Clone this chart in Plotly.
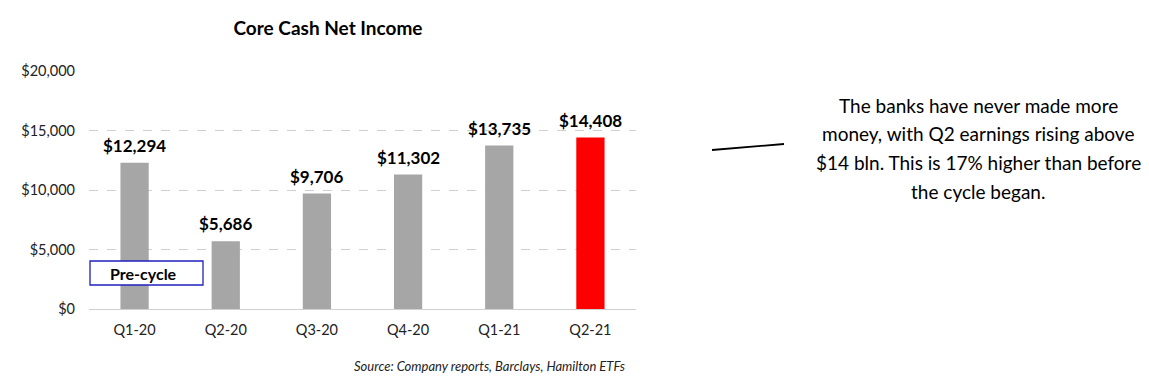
import plotly.graph_objects as go

categories = ["Q1-20", "Q2-20", "Q3-20", "Q4-20", "Q1-21", "Q2-21"]
values = [12294, 5686, 9706, 11302, 13735, 14408]
bar_colors = ["#a6a6a6", "#a6a6a6", "#a6a6a6", "#a6a6a6", "#a6a6a6", "#ff0000"]
tick_vals = [0, 5000, 10000, 15000, 20000]
tick_text = ["$0", "$5,000", "$10,000", "$15,000", "$20,000"]
labels = ["${:,}".format(v) for v in values]
comment_lines = [
    "The banks have never made more",
    "money, with Q2 earnings rising above",
    "$14 bln. This is 17% higher than before",
    "the cycle began.",
]

FONT = "Lato"
OFF = 8  # page body margin
W, H = 1149 - OFF, 383 - OFF

fig = go.Figure()
fig.add_trace(go.Bar(
    x=categories, y=values, marker=dict(color=bar_colors, line=dict(width=0)),
    width=0.31, hoverinfo="skip",
))

for c, v, t in zip(categories, values, labels):
    fig.add_annotation(x=c, y=v, text="<b>" + t + "</b>", showarrow=False,
                       xanchor="center", yanchor="bottom", yshift=5,
                       font=dict(family=FONT, size=17, color="black"))

fig.update_layout(
    width=W, height=H,
    margin=dict(l=89 - OFF, r=W - (636 - OFF), t=71 - OFF, b=H - (309 - OFF), autoexpand=False),
    paper_bgcolor="white", plot_bgcolor="white",
    showlegend=False,
    font=dict(family=FONT, size=14, color="#222"),
    xaxis=dict(showgrid=False, showline=False, ticks="", tickfont=dict(size=14.5),
               ticklabelstandoff=10),
    yaxis=dict(range=[0, 20000], tickvals=tick_vals, ticktext=tick_text,
               showgrid=True, gridcolor="#d0d0d0", griddash="dash", gridwidth=1,
               zeroline=True, zerolinecolor="#d0d0d0", zerolinewidth=1.2,
               ticks="", ticklabelstandoff=13, tickfont=dict(size=14.5)),
    title=dict(text="<b>Core Cash Net Income</b>", x=(328 - OFF) / W, xanchor="center",
               y=1 - (28 - OFF) / H, yanchor="middle", font=dict(family=FONT, size=19, color="black")),
)

def px(x):
    return (x - 89) / (636 - 89)

def py(y):
    return (309 - y) / (309 - 71)

# Pre-cycle box
fig.add_shape(type="rect", xref="paper", yref="paper", x0=px(90), x1=px(203), y0=py(285), y1=py(261),
              line=dict(color="#1f1fbf", width=1.3), fillcolor="white", layer="above")
fig.add_annotation(xref="paper", yref="paper", x=px(143), y=py(273), text="<b>Pre-cycle</b>",
                   showarrow=False, font=dict(family=FONT, size=16, color="black"),
                   xanchor="center", yanchor="middle")

# Source
fig.add_annotation(xref="paper", yref="paper", x=px(627), y=py(366), xanchor="right", yanchor="middle",
                   text="<i>Source: Company reports, Barclays, Hamilton ETFs</i>", showarrow=False,
                   font=dict(family=FONT, size=13, color="#222"))

# Connector line
fig.add_shape(type="line", xref="paper", yref="paper", x0=px(712), y0=py(150), x1=px(784), y1=py(144),
              line=dict(color="black", width=1.8))

# Commentary (one annotation per line for exact spacing)
for i, line in enumerate(comment_lines):
    fig.add_annotation(xref="paper", yref="paper", x=px(978), y=py(105 + 28.7 * i),
                       xanchor="center", yanchor="middle", text=line, showarrow=False,
                       font=dict(family=FONT, size=19, color="black"))

fig.write_html("out.html")
